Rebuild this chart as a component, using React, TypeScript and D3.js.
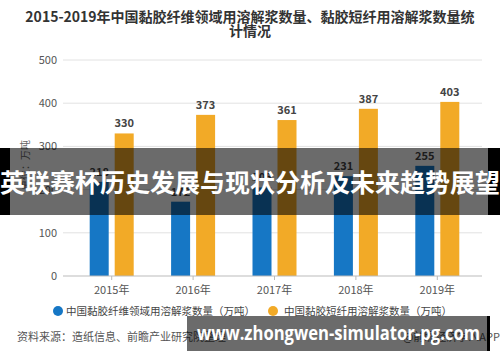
import * as d3 from 'd3';

const years = ['2015年', '2016年', '2017年', '2018年', '2019年'];
const fiberValues = [218, 172, 205, 231, 255];
const staplValues = [330, 373, 361, 387, 403];
const yTicks = [0, 100, 200, 300, 400, 500];
const seriesNames = ['中国黏胶纤维领域用溶解浆数量（万吨）', '中国黏胶短纤用溶解浆数量（万吨）'];
const colors = ['#1677c5', '#f2aa27'];

const W = 500;
const H = 362;
const FONT = '"Noto Sans CJK SC", "Noto Sans", sans-serif';

export default function App() {
  const x = d3.scaleBand<string>().domain(years).range([71, 478]);
  const y = d3.scaleLinear().domain([0, 500]).range([276, 60]);
  const barW = 19;
  const gap = 6;

  const series = [fiberValues, staplValues];

  return (
    <svg
      width={W}
      height={H}
      style={{ position: 'absolute', left: 0, top: 0, background: '#fff', fontFamily: FONT }}
    >
      <text x={250} y={22} textAnchor="middle" fontSize={14} fontWeight="bold" fill="#333">
        2015-2019年中国黏胶纤维领域用溶解浆数量、黏胶短纤用溶解浆数量统
      </text>
      <text x={250} y={36} textAnchor="middle" fontSize={14} fontWeight="bold" fill="#333">
        计情况
      </text>

      {/* grid + y labels */}
      {yTicks.map(t => (
        <g key={t}>
          {t > 0 && <line x1={63} x2={482} y1={y(t)} y2={y(t)} stroke="#e2e2e2" />}
          <text x={57} y={y(t) + 4} textAnchor="end" fontSize={11} fill="#555">
            {t}
          </text>
        </g>
      ))}
      <text
        transform={`translate(29, 165) rotate(-90)`}
        textAnchor="middle"
        fontSize={10}
        fill="#666"
      >
        单位：万吨
      </text>

      {/* bars */}
      {series.map((vals, si) =>
        vals.map((v, i) => {
          const cx = x(years[i])! + x.bandwidth() / 2;
          const bx = si === 0 ? cx - gap / 2 - barW : cx + gap / 2;
          return (
            <g key={`${si}-${i}`}>
              <rect x={bx} y={y(v)} width={barW} height={y(0) - y(v)} fill={colors[si]} />
              <text
                x={bx + barW / 2}
                y={y(v) - 6}
                textAnchor="middle"
                fontSize={11}
                fontWeight="bold"
                fill="#444"
              >
                {v}
              </text>
            </g>
          );
        })
      )}

      {/* x axis */}
      <line x1={63} x2={482} y1={y(0)} y2={y(0)} stroke="#bbb" />
      {years.map(yr => {
        const cx = x(yr)! + x.bandwidth() / 2;
        return (
          <g key={yr}>
            <line x1={cx} x2={cx} y1={y(0)} y2={y(0) + 4} stroke="#bbb" />
            <text x={cx} y={y(0) + 18} textAnchor="middle" fontSize={11} fill="#555">
              {yr}
            </text>
          </g>
        );
      })}

      {/* legend */}
      <circle cx={58} cy={311} r={5} fill={colors[0]} />
      <text x={66} y={315} fontSize={10.5} fill="#444">{seriesNames[0]}</text>
      <circle cx={273} cy={311} r={5} fill={colors[1]} />
      <text x={284} y={315} fontSize={10.5} fill="#444">{seriesNames[1]}</text>

      {/* source */}
      <text x={17} y={341} fontSize={11} fill="#555">资料来源：造纸信息、前瞻产业研究院整理</text>
      <text x={500} y={341} textAnchor="end" fontSize={11} fill="#555">@前瞻经济学人APP</text>

      {/* overlay banner */}
      <rect x={0} y={148} width={10} height={67} fill="#000" />
      <rect x={488} y={148} width={12} height={67} fill="#000" />
      <rect x={10} y={148} width={478} height={67} fill="rgba(0,0,0,0.58)" />
      <text x={250} y={192} textAnchor="middle" fontSize={25} fontWeight="bold" fill="#fff">
        英联赛杯历史发展与现状分析及未来趋势展望
      </text>

      {/* bottom banner */}
      <rect x={187} y={316} width={300} height={35} fill="rgba(0,0,0,0.58)" />
      <rect x={487} y={316} width={3} height={35} fill="#000" />
      <text
        x={197}
        y={340}
        fontSize={19}
        fontWeight="bold"
        fill="#fff"
        textLength={283}
        lengthAdjust="spacingAndGlyphs"
        fontFamily='"Open Sans", "DejaVu Sans", sans-serif'
      >
        www.zhongwen-simulator-pg.com
      </text>
    </svg>
  );
}
